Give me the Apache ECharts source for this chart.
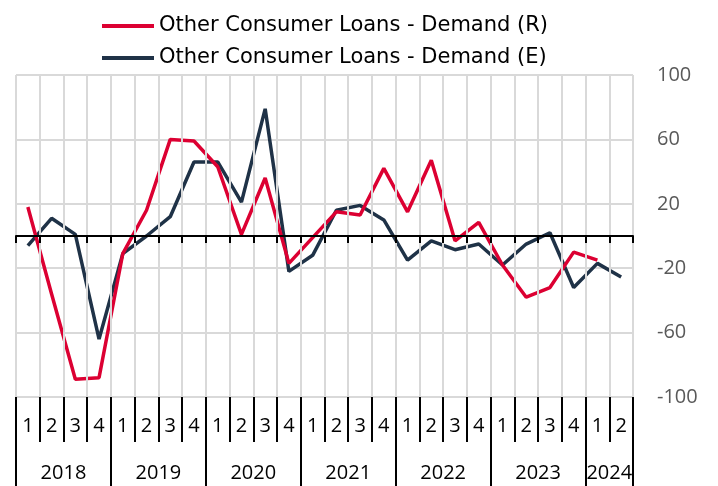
<!DOCTYPE html>
<html>
<head>
<meta charset="utf-8">
<script src="https://cdn.jsdelivr.net/npm/echarts@6/dist/echarts.min.js"></script>
<style>html,body{margin:0;padding:0;background:#fff}#c{width:718px;height:486px}</style>
</head>
<body>
<div id="c"></div>
<script>
var quarters = ['1','2','3','4','1','2','3','4','1','2','3','4','1','2','3','4','1','2','3','4','1','2','3','4','1','2'];
var years = ['2018','2019','2020','2021','2022','2023','2024'];
var yearCenters = [2, 6, 10, 14, 18, 22, 25];
var yearBounds = [0, 4, 8, 12, 16, 20, 24, 26];
var seriesR = [18, -36, -89, -88, -11, 16, 60, 59, 43, 1, 36, -17, -1, 15, 13, 42, 15, 47, -3, 8.5, -18, -38, -32, -10, -15, null];
var seriesE = [-6, 11, 1, -64, -11, 0, 12, 46, 46, 21, 79, -22, -12, 16, 19, 10, -15, -3, -8.5, -5, -18, -5, 2, -32, -17, -25.5];
var nameR = 'Other Consumer Loans - Demand (R)';
var nameE = 'Other Consumer Loans - Demand (E)';
var yTicks = [-100, -60, -20, 20, 60, 100];

var FONT = 'Open Sans';
var chart = echarts.init(document.getElementById('c'), null, {renderer: 'canvas'});
chart.setOption({
  animation: false,
  textStyle: {fontFamily: FONT},
  legend: {
    orient: 'vertical',
    left: 102, top: 15, padding: 0,
    itemGap: 10,
    itemWidth: 52, itemHeight: 4,
    icon: 'rect',
    data: [nameR, nameE],
    textStyle: {fontFamily: 'DejaVu Sans', fontSize: 21, color: '#000', lineHeight: 22}
  },
  grid: {left: 16, right: 85, top: 75, bottom: 89, containLabel: false, outerBoundsMode: 'none'},
  xAxis: [
    {
      type: 'category', data: quarters, boundaryGap: true,
      axisLine: {show: true, onZero: true, lineStyle: {color: '#000', width: 2}},
      axisTick: {show: true, interval: 0, length: 7, lineStyle: {color: '#000', width: 2}},
      axisLabel: {show: false},
      splitLine: {show: true, interval: 0, lineStyle: {color: '#d9d9d9', width: 2}},
      z: 5
    },
    {
      type: 'category', data: quarters, boundaryGap: true, position: 'bottom',
      axisLine: {show: false, onZero: false},
      axisTick: {show: true, interval: 0, length: 45, lineStyle: {color: '#000', width: 2}},
      axisLabel: {show: true, interval: 0, margin: 19, fontFamily: FONT, fontSize: 20, lineHeight: 20, color: '#000'},
      splitLine: {show: false}
    },
    {
      type: 'value', min: 0, max: 26, position: 'bottom',
      axisLine: {show: false, onZero: false},
      axisTick: {show: true, customValues: yearBounds, length: 89, lineStyle: {color: '#000', width: 2}},
      axisLabel: {show: true, customValues: yearCenters, margin: 66, fontFamily: FONT, fontSize: 20, lineHeight: 20, color: '#000',
        formatter: function (v) { var i = yearCenters.indexOf(v); return i >= 0 ? years[i] : ''; }},
      splitLine: {show: false}
    }
  ],
  yAxis: {
    type: 'value', position: 'right', min: -100, max: 100, interval: 40,
    axisLine: {show: false}, axisTick: {show: false},
    axisLabel: {margin: 24, fontFamily: FONT, fontSize: 20, color: '#595959'},
    splitLine: {show: true, lineStyle: {color: '#d9d9d9', width: 2}}
  },
  series: [
    {name: nameE, type: 'line', data: seriesE, symbol: 'none', color: '#1f3247',
     lineStyle: {width: 3.5, color: '#1f3247'}, z: 3},
    {name: nameR, type: 'line', data: seriesR, symbol: 'none', color: '#dc0032',
     lineStyle: {width: 3.5, color: '#dc0032'}, z: 4}
  ]
});
</script>
</body>
</html>
